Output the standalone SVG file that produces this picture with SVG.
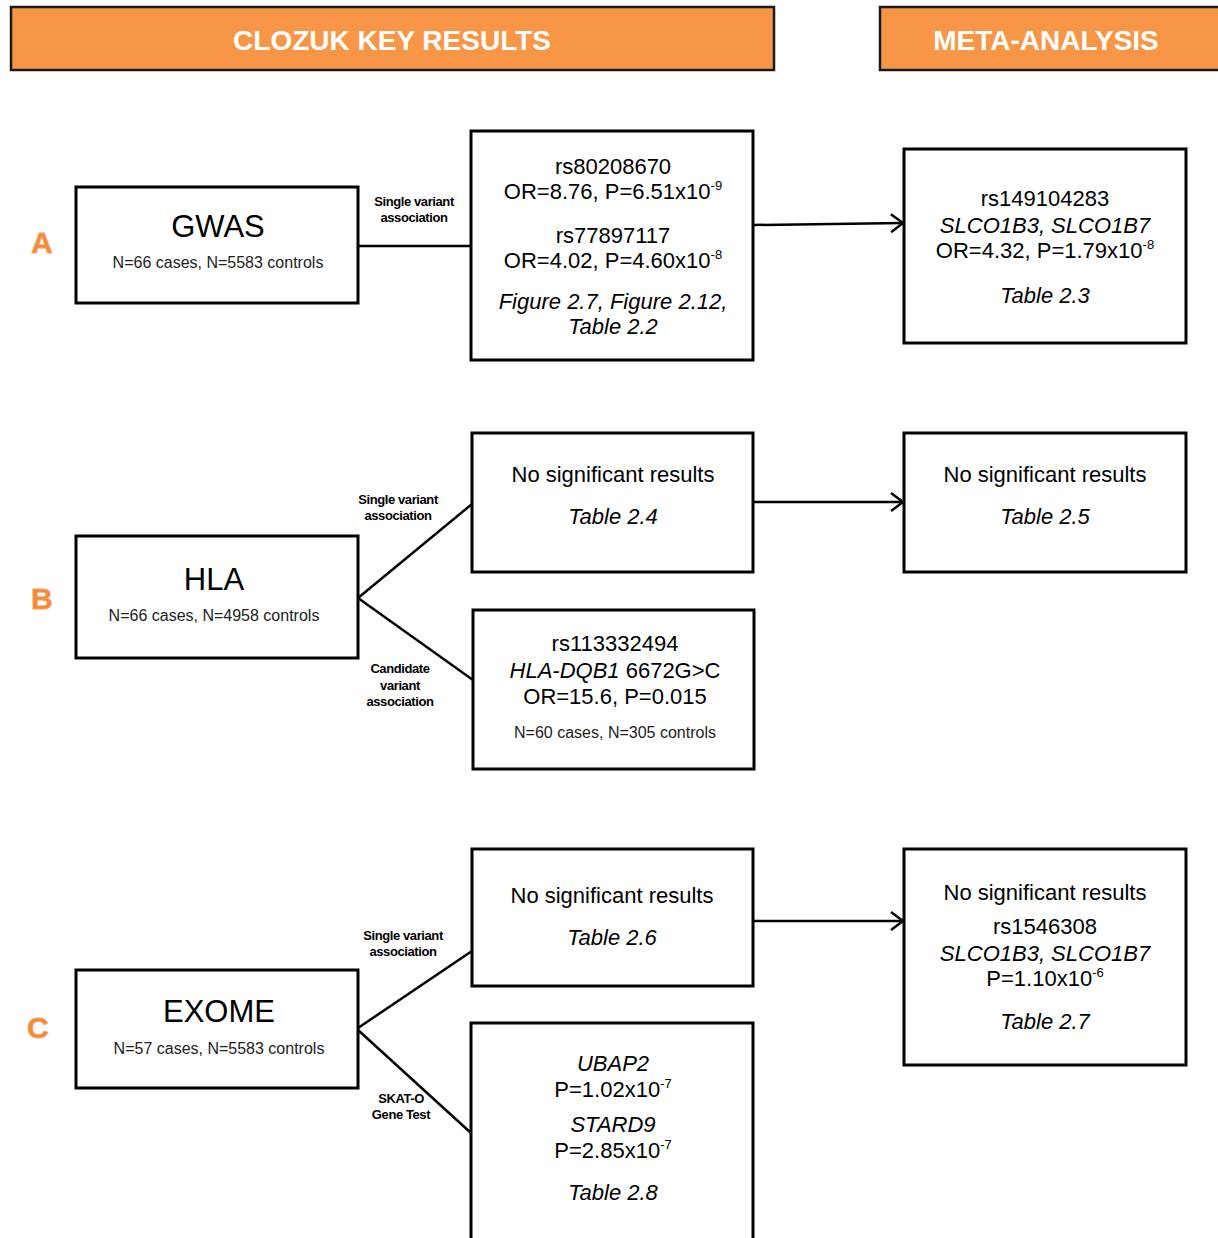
<svg xmlns="http://www.w3.org/2000/svg" width="1218" height="1238" viewBox="0 0 1218 1238">
<defs>
<style>
text{font-family:"Liberation Sans",Arial,sans-serif;fill:#000}
.hdr{fill:#F79646;stroke:#1a1a1a;stroke-width:2.5}
.ht{fill:#fff;font-weight:bold;font-size:28px;text-anchor:middle}
.box{fill:#fff;stroke:#000;stroke-width:3}
.t{font-size:22px;text-anchor:middle}
.it{font-style:italic}
.big{font-size:31px;text-anchor:middle}
.sub{font-size:16px;text-anchor:middle;fill:#222}
.lbl{font-size:13px;font-weight:bold;text-anchor:middle;letter-spacing:-0.4px}
.let{font-size:30px;font-weight:bold;fill:#F28A3A;stroke:#F7A260;stroke-width:0.8}
.con{fill:none;stroke:#000;stroke-width:2.5}
.sup{font-size:13px}
</style>
<marker id="arr" markerWidth="16" markerHeight="20" refX="13" refY="10" orient="auto" markerUnits="userSpaceOnUse">
<path d="M1,1 L13,10 L1,19" fill="none" stroke="#000" stroke-width="2.5"/>
</marker>
</defs>

<g id="header-clozuk">
<rect class="hdr" x="11" y="7" width="763" height="63"/>
<text class="ht" x="392" y="50">CLOZUK KEY RESULTS</text>
</g>
<g id="header-meta">
<rect class="hdr" x="880" y="7" width="345" height="63"/>
<text class="ht" x="1046" y="50">META-ANALYSIS</text>
</g>

<g id="letters">
<text class="let" x="31" y="253">A</text>
<text class="let" x="31" y="609">B</text>
<text class="let" x="27" y="1038">C</text>
</g>

<g id="connectors">
<line class="con" x1="358" y1="246" x2="471" y2="246"/>
<line class="con" x1="753" y1="225" x2="903" y2="223" marker-end="url(#arr)"/>
<line class="con" x1="358" y1="598" x2="472" y2="504"/>
<line class="con" x1="358" y1="598" x2="473" y2="680"/>
<line class="con" x1="753" y1="502" x2="903" y2="502" marker-end="url(#arr)"/>
<line class="con" x1="358" y1="1028" x2="472" y2="951"/>
<line class="con" x1="358" y1="1030" x2="471" y2="1133"/>
<line class="con" x1="753" y1="921" x2="903" y2="921" marker-end="url(#arr)"/>
</g>

<g id="connector-labels">
<text class="lbl" x="414" y="206">Single variant</text>
<text class="lbl" x="414" y="222">association</text>
<text class="lbl" x="398" y="504">Single variant</text>
<text class="lbl" x="398" y="520">association</text>
<text class="lbl" x="400" y="673">Candidate</text>
<text class="lbl" x="400" y="690">variant</text>
<text class="lbl" x="400" y="706">association</text>
<text class="lbl" x="403" y="940">Single variant</text>
<text class="lbl" x="403" y="956">association</text>
<text class="lbl" x="401" y="1103">SKAT-O</text>
<text class="lbl" x="401" y="1119">Gene Test</text>
</g>

<g id="gwas">
<rect class="box" x="76" y="187" width="282" height="116"/>
<text class="big" x="218" y="237">GWAS</text>
<text class="sub" x="218" y="268">N=66 cases, N=5583 controls</text>
</g>

<g id="gwas-result">
<rect class="box" x="471" y="131" width="282" height="229"/>
<text class="t" x="613" y="174">rs80208670</text>
<text class="t" x="613" y="199">OR=8.76, P=6.51x10<tspan class="sup" dy="-9">-9</tspan></text>
<text class="t" x="613" y="243">rs77897117</text>
<text class="t" x="613" y="268">OR=4.02, P=4.60x10<tspan class="sup" dy="-9">-8</tspan></text>
<text class="t it" x="613" y="309">Figure 2.7, Figure 2.12,</text>
<text class="t it" x="613" y="334">Table 2.2</text>
</g>

<g id="gwas-meta">
<rect class="box" x="904" y="149" width="282" height="194"/>
<text class="t" x="1045" y="206">rs149104283</text>
<text class="t it" x="1045" y="233">SLCO1B3, SLCO1B7</text>
<text class="t" x="1045" y="258">OR=4.32, P=1.79x10<tspan class="sup" dy="-9">-8</tspan></text>
<text class="t it" x="1045" y="303">Table 2.3</text>
</g>

<g id="hla">
<rect class="box" x="76" y="536" width="282" height="122"/>
<text class="big" x="214" y="590">HLA</text>
<text class="sub" x="214" y="621">N=66 cases, N=4958 controls</text>
</g>

<g id="hla-single">
<rect class="box" x="472" y="433" width="281" height="139"/>
<text class="t" x="613" y="482">No significant results</text>
<text class="t it" x="613" y="524">Table 2.4</text>
</g>

<g id="hla-meta">
<rect class="box" x="904" y="433" width="282" height="139"/>
<text class="t" x="1045" y="482">No significant results</text>
<text class="t it" x="1045" y="524">Table 2.5</text>
</g>

<g id="hla-candidate">
<rect class="box" x="473" y="610" width="281" height="159"/>
<text class="t" x="615" y="651">rs113332494</text>
<text class="t" x="615" y="678"><tspan class="it">HLA-DQB1</tspan> 6672G&gt;C</text>
<text class="t" x="615" y="704">OR=15.6, P=0.015</text>
<text class="sub" x="615" y="738">N=60 cases, N=305 controls</text>
</g>

<g id="exome">
<rect class="box" x="76" y="970" width="282" height="118"/>
<text class="big" x="219" y="1022">EXOME</text>
<text class="sub" x="219" y="1054">N=57 cases, N=5583 controls</text>
</g>

<g id="exome-single">
<rect class="box" x="472" y="849" width="281" height="137"/>
<text class="t" x="612" y="903">No significant results</text>
<text class="t it" x="612" y="945">Table 2.6</text>
</g>

<g id="exome-meta">
<rect class="box" x="904" y="849" width="282" height="216"/>
<text class="t" x="1045" y="900">No significant results</text>
<text class="t" x="1045" y="934">rs1546308</text>
<text class="t it" x="1045" y="961">SLCO1B3, SLCO1B7</text>
<text class="t" x="1045" y="986">P=1.10x10<tspan class="sup" dy="-9">-6</tspan></text>
<text class="t it" x="1045" y="1029">Table 2.7</text>
</g>

<g id="exome-skat">
<path class="box" d="M471,1242 V1023 H753 V1242"/>
<text class="t it" x="613" y="1071">UBAP2</text>
<text class="t" x="613" y="1097">P=1.02x10<tspan class="sup" dy="-9">-7</tspan></text>
<text class="t it" x="613" y="1132">STARD9</text>
<text class="t" x="613" y="1158">P=2.85x10<tspan class="sup" dy="-9">-7</tspan></text>
<text class="t it" x="613" y="1200">Table 2.8</text>
</g>
</svg>
